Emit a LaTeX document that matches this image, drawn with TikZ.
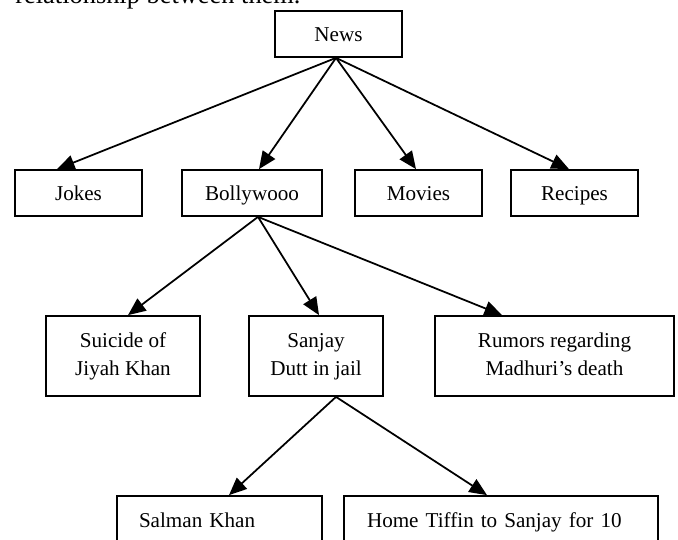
\documentclass[tikz,border=0pt]{standalone}
\usepackage{fontspec}
\setmainfont{Liberation Serif}
\usetikzlibrary{arrows.meta,calc}
\newdimen\pxu \pxu=0.5682pt
\begin{document}
\begin{tikzpicture}[x=0.5682pt,y=-0.5682pt,
  box/.style={draw, line width=1pt, inner sep=0pt, font=\fontsize{12}{16}\selectfont, align=center},
  oneline/.style={text height=8pt, text depth=0pt},
  arr/.style={line width=1pt, -{Triangle[length=10pt,width=8.5pt]}}]
\useasboundingbox (0,0) rectangle (678,539);
\node[anchor=base west, inner sep=0pt, font=\fontsize{15}{18}\selectfont] (intro) at (15,3) {relationship between them.};
% row 1
\node[box, oneline, minimum width=127*\pxu, minimum height=46*\pxu] (news) at (338.5,34) {News};
% row 2
\node[box, oneline, minimum width=127*\pxu, minimum height=46*\pxu] (jokes) at (78.5,193) {Jokes};
\node[box, oneline, minimum width=140*\pxu, minimum height=46*\pxu] (bolly) at (252,193) {Bollywooo};
\node[box, oneline, minimum width=127*\pxu, minimum height=46*\pxu] (movies) at (418.5,193) {Movies};
\node[box, oneline, minimum width=127*\pxu, minimum height=46*\pxu] (recipes) at (574.5,193) {Recipes};
% row 3
\node[box, minimum width=154*\pxu, minimum height=80*\pxu] (suicide) at (123,356) {Suicide of\strut\\Jiyah Khan\strut};
\node[box, minimum width=134*\pxu, minimum height=80*\pxu] (sanjay) at (316,356) {Sanjay\strut\\Dutt in jail\strut};
\node[box, minimum width=239*\pxu, minimum height=80*\pxu] (rumors) at (554.5,356) {Rumors regarding\strut\\Madhuri’s death\strut};
% row 4
\node[box, align=left, text width=161*\pxu, minimum width=205*\pxu, minimum height=80*\pxu] (salman) at (219.5,536) {Salman Khan\strut\\\strut};
\node[box, align=left, text width=268*\pxu, minimum width=314*\pxu, minimum height=80*\pxu] (tiffin) at (501,536) {Home Tiffin to Sanjay for 10\strut\\\strut};
% connectors
\coordinate (nS) at ($(news.south)+(-2.5,0)$);
\coordinate (bS) at ($(bolly.south)+(6,0)$);
\coordinate (sS) at ($(sanjay.south)+(20,0)$);
\draw[arr] (nS) -- ($(jokes.north)+(-21.5,0)$);
\draw[arr] (nS) -- ($(bolly.north)+(7,0)$);
\draw[arr] (nS) -- ($(movies.north)+(-2.5,0)$);
\draw[arr] (nS) -- ($(recipes.north)+(-5.5,0)$);
\draw[arr] (bS) -- ($(suicide.north)+(5,0)$);
\draw[arr] (bS) -- ($(sanjay.north)+(3,0)$);
\draw[arr] (bS) -- ($(rumors.north)+(-52.5,0)$);
\draw[arr] (sS) -- ($(salman.north)+(9.5,0)$);
\draw[arr] (sS) -- ($(tiffin.north)+(-14,0)$);
\end{tikzpicture}
\end{document}
